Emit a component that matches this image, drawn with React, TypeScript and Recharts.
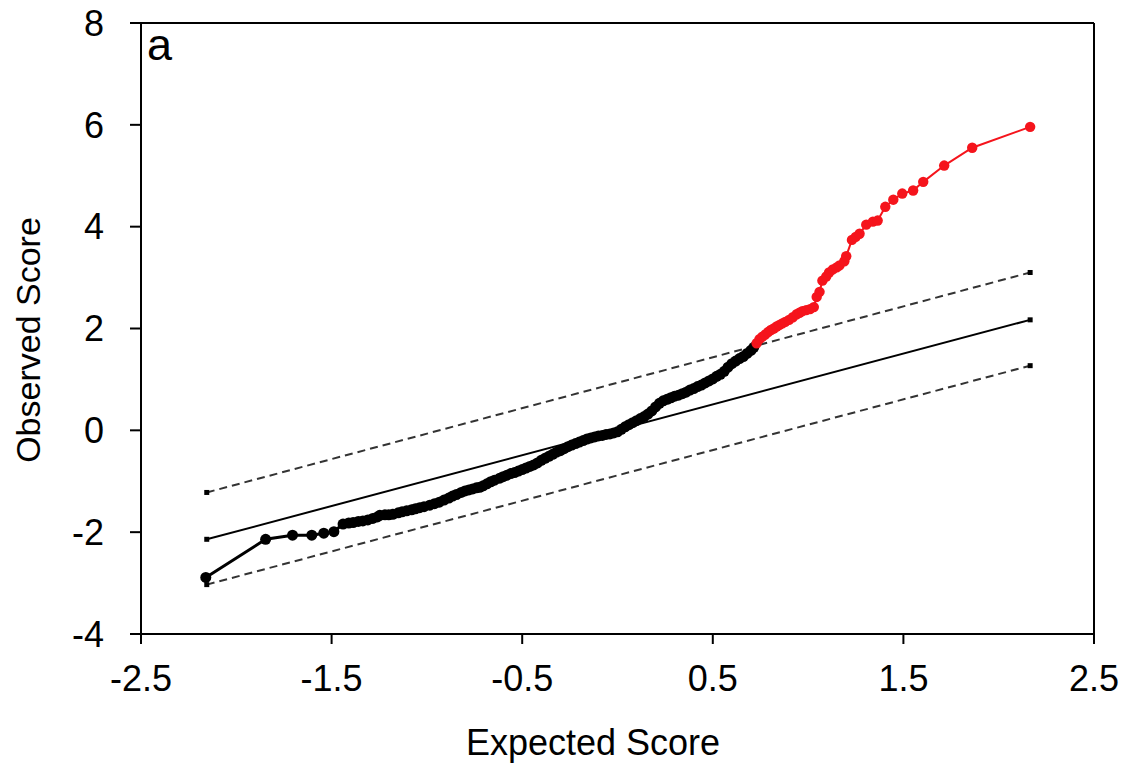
import {
  ScatterChart,
  Scatter,
  XAxis,
  YAxis,
  ReferenceLine,
  Label,
} from 'recharts'

// expected vs observed scores, black = within band, red = above
const blackExpected = [
  -2.16, -1.846, -1.705, -1.604, -1.541, -1.488, -1.44, -1.41, -1.387, -1.36,
  -1.336, -1.31, -1.284, -1.26, -1.247, -1.22, -1.2, -1.179, -1.15, -1.13,
  -1.106, -1.08, -1.06, -1.038, -1.015, -0.985, -0.96, -0.935, -0.91, -0.885,
  -0.865, -0.845, -0.82, -0.8, -0.78, -0.76, -0.74, -0.723, -0.705, -0.685,
  -0.665, -0.645, -0.618, -0.6, -0.58, -0.56, -0.54, -0.52, -0.5, -0.48,
  -0.46, -0.44, -0.42, -0.4, -0.38, -0.36, -0.34, -0.32, -0.3, -0.28,
  -0.26, -0.24, -0.22, -0.2, -0.18, -0.16, -0.14, -0.12, -0.1, -0.08,
  -0.06, -0.04, -0.02, 0.0, 0.02, 0.04, 0.06, 0.08, 0.1, 0.12,
  0.14, 0.16, 0.18, 0.2, 0.22, 0.24, 0.26, 0.28, 0.3, 0.32,
  0.34, 0.36, 0.38, 0.4, 0.42, 0.44, 0.46, 0.48, 0.5, 0.52,
  0.54, 0.56, 0.58, 0.6, 0.62, 0.64, 0.66, 0.68, 0.7, 0.715,
]
const blackObserved = [
  -2.89, -2.14, -2.06, -2.06, -2.02, -1.99, -1.84, -1.82, -1.81, -1.79,
  -1.78, -1.76, -1.73, -1.7, -1.67, -1.66, -1.66, -1.65, -1.62, -1.6,
  -1.58, -1.56, -1.54, -1.52, -1.5, -1.47, -1.44, -1.41, -1.37, -1.33,
  -1.29, -1.26, -1.22, -1.19, -1.17, -1.15, -1.13, -1.12, -1.09, -1.05,
  -1.01, -0.98, -0.94, -0.91, -0.88, -0.85, -0.83, -0.8, -0.77, -0.74,
  -0.71, -0.68, -0.64, -0.59, -0.55, -0.51, -0.47, -0.43, -0.4, -0.36,
  -0.32, -0.29, -0.26, -0.23, -0.2, -0.17, -0.15, -0.13, -0.11, -0.1,
  -0.08, -0.07, -0.05, -0.03, 0.02, 0.07, 0.11, 0.15, 0.19, 0.23,
  0.27, 0.32, 0.38, 0.46, 0.53, 0.58, 0.61, 0.64, 0.67, 0.69,
  0.72, 0.75, 0.79, 0.82, 0.86, 0.89, 0.93, 0.97, 1.01, 1.06,
  1.1, 1.16, 1.24, 1.31, 1.36, 1.41, 1.45, 1.51, 1.57, 1.63,
]
const redExpected = [
  0.73, 0.745, 0.76, 0.775, 0.79, 0.805, 0.82, 0.835, 0.85, 0.865,
  0.88, 0.9, 0.92, 0.94, 0.955, 0.97, 0.99, 1.01, 1.03, 1.045,
  1.06, 1.075, 1.095, 1.11, 1.13, 1.15, 1.165, 1.19, 1.2, 1.23,
  1.25, 1.27, 1.305, 1.34, 1.365, 1.405, 1.447, 1.494, 1.551, 1.604,
  1.714, 1.861, 2.165,
]
const redObserved = [
  1.71, 1.79, 1.84, 1.88, 1.93, 1.97, 2.0, 2.04, 2.07, 2.1,
  2.13, 2.17, 2.22, 2.28, 2.31, 2.34, 2.36, 2.38, 2.42, 2.62,
  2.72, 2.94, 3.02, 3.1, 3.16, 3.2, 3.24, 3.32, 3.42, 3.74,
  3.8, 3.86, 4.04, 4.1, 4.12, 4.39, 4.53, 4.65, 4.71, 4.88,
  5.2, 5.55, 5.96,
]
// reference line y = x and its band
const bandExpected = [-2.155, 2.165]
const midObserved = [-2.14, 2.17]
const upperObserved = [-1.22, 3.1]
const lowerObserved = [-3.03, 1.27]

const xTicks = [-2.5, -1.5, -0.5, 0.5, 1.5, 2.5]
const yTicks = [-4, -2, 0, 2, 4, 6, 8]

const zip = (xs: number[], ys: number[]) => xs.map((x, i) => ({ x, y: ys[i] }))

const blackData = zip(blackExpected, blackObserved)
const redData = zip(redExpected, redObserved)
const midData = zip(bandExpected, midObserved)
const upperData = zip(bandExpected, upperObserved)
const lowerData = zip(bandExpected, lowerObserved)

const FONT = '"Liberation Sans", Arial, sans-serif'

const dot = (color: string, r: number) => (p: any) => <circle cx={p.cx} cy={p.cy} r={r} fill={color} />
const square = (p: any) => <rect x={p.cx - 2.5} y={p.cy - 2.5} width={5} height={5} fill="#000" />

export default function App() {
  return (
    <div style={{ position: 'absolute', left: 0, top: 0, background: '#fff', fontFamily: FONT }}>
      <ScatterChart width={1131} height={767} margin={{ top: 23, right: 37, left: 0, bottom: 0 }}>
        <XAxis
          type="number"
          dataKey="x"
          domain={[-2.5, 2.5]}
          ticks={xTicks}
          tick={{ fontSize: 36, fill: '#000', fontFamily: FONT }}
          tickSize={10}
          tickMargin={21}
          height={133}
          stroke="#000"
          strokeWidth={2}
          allowDataOverflow
        >
          <Label
            content={() => (
              <text x={593} y={755} textAnchor="middle" fontSize={36} fill="#000" fontFamily={FONT}>
                Expected Score
              </text>
            )}
          />
        </XAxis>
        <YAxis
          type="number"
          dataKey="y"
          domain={[-4, 8]}
          ticks={yTicks}
          tick={{ fontSize: 36, fill: '#000', fontFamily: FONT }}
          tickSize={11}
          tickMargin={26}
          width={141}
          stroke="#000"
          strokeWidth={2}
          allowDataOverflow
        >
          <Label
            content={() => (
              <text
                x={40}
                y={340}
                transform="rotate(-90 40 340)"
                textAnchor="middle"
                fontSize={34}
                fill="#000"
                fontFamily={FONT}
              >
                Observed Score
              </text>
            )}
          />
          <Label
            content={() => (
              <text x={147} y={60} fontSize={45} fill="#000" fontFamily={FONT}>
                a
              </text>
            )}
          />
        </YAxis>
        <ReferenceLine y={8} stroke="#000" strokeWidth={2} />
        <ReferenceLine x={2.5} stroke="#000" strokeWidth={2} />
        <Scatter
          data={upperData}
          line={{ stroke: '#333', strokeWidth: 2, strokeDasharray: '8 5' }}
          shape={square}
          isAnimationActive={false}
        />
        <Scatter
          data={lowerData}
          line={{ stroke: '#333', strokeWidth: 2, strokeDasharray: '8 5' }}
          shape={square}
          isAnimationActive={false}
        />
        <Scatter
          data={midData}
          line={{ stroke: '#000', strokeWidth: 2 }}
          shape={square}
          isAnimationActive={false}
        />
        <Scatter
          data={blackData}
          line={{ stroke: '#000', strokeWidth: 3 }}
          shape={dot('#000', 5.5)}
          isAnimationActive={false}
        />
        <Scatter
          data={redData}
          line={{ stroke: '#f5141c', strokeWidth: 2 }}
          shape={dot('#f5141c', 5.2)}
          isAnimationActive={false}
        />
      </ScatterChart>
    </div>
  )
}
